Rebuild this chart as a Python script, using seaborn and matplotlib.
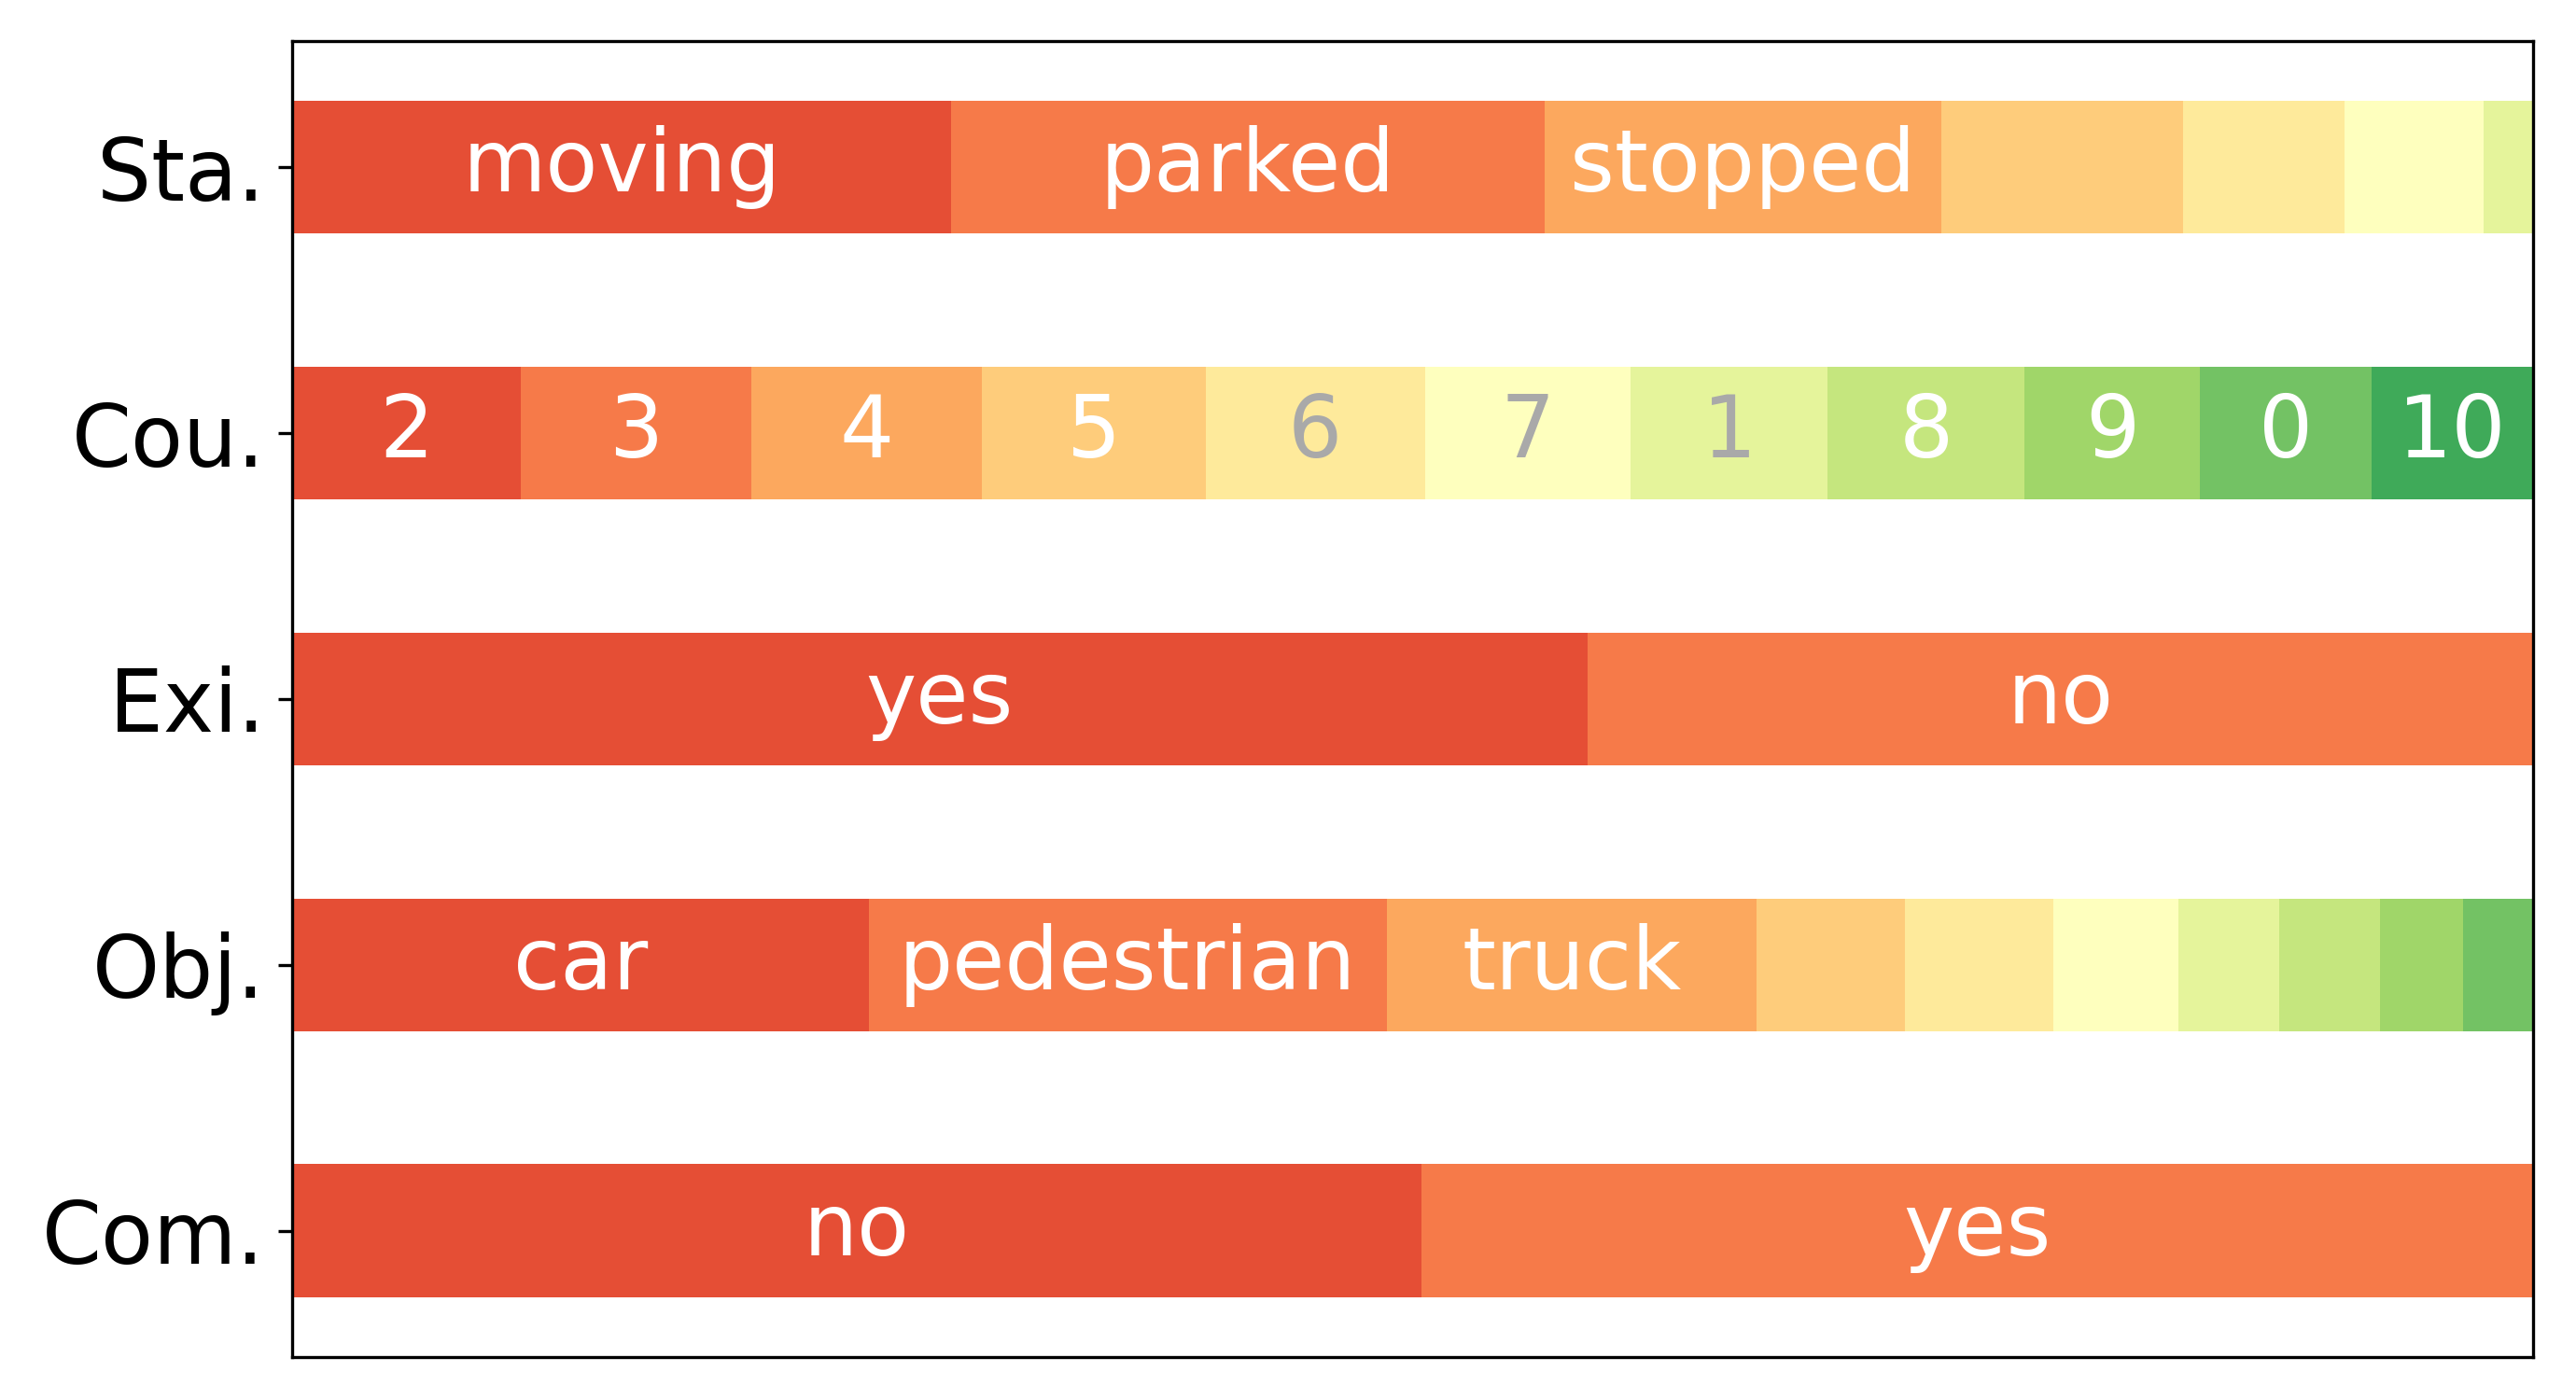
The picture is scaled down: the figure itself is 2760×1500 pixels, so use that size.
import numpy as np
import matplotlib
matplotlib.use("Agg")
import matplotlib.pyplot as plt
import seaborn as sns

# row names (top to bottom)
rows = ["Sta.", "Cou.", "Exi.", "Obj.", "Com."]

# share of each category per row (percent)
sta_vals = [29.4, 26.5, 17.7, 10.8, 7.2, 6.2, 2.2]
sta_labels = ["moving", "parked", "stopped", "", "", "", ""]

cou_vals = [10.2, 10.3, 10.3, 10.0, 9.8, 9.2, 8.8, 8.8, 7.8, 7.7, 7.2]
cou_labels = ["2", "3", "4", "5", "6", "7", "1", "8", "9", "0", "10"]

exi_vals = [57.8, 42.2]
exi_labels = ["yes", "no"]

obj_vals = [25.7, 23.1, 16.5, 6.6, 6.6, 5.6, 4.5, 4.5, 3.7, 3.1]
obj_labels = ["car", "pedestrian", "truck", "", "", "", "", "", "", ""]

com_vals = [50.4, 49.6]
com_labels = ["no", "yes"]


def main():
    plt.rcParams["font.family"] = ["DejaVu Sans"]

    all_vals = [sta_vals, cou_vals, exi_vals, obj_vals, com_vals]
    all_labels = [sta_labels, cou_labels, exi_labels, obj_labels, com_labels]

    n_max = max(len(v) for v in all_vals)
    cmap = sns.color_palette("RdYlGn", as_cmap=True)
    colors = cmap(np.linspace(0.15, 0.85, n_max))

    fig, ax = plt.subplots(figsize=(9.2, 5))
    fig.subplots_adjust(left=0.1134, right=0.9833, top=0.9707, bottom=0.0307)

    for i, (vals, labs) in enumerate(zip(all_vals, all_labels)):
        v = np.array(vals) / np.sum(vals)
        starts = np.cumsum(v) - v
        for j, (w, s, lab) in enumerate(zip(v, starts, labs)):
            ax.barh(i, w, left=s, height=0.5, color=colors[j], linewidth=0)
            if lab:
                r, g, b, _ = colors[j]
                tc = "white" if r * g * b < 0.5 else "darkgrey"
                ax.text(s + w / 2, i, lab, ha="center", va="center",
                        color=tc, fontsize=22)

    ax.set_yticks(range(len(rows)))
    ax.set_yticklabels(rows, fontsize=22)
    ax.invert_yaxis()
    ax.set_xlim(0, 1)
    ax.xaxis.set_visible(False)

    plt.savefig("out.png", dpi=300)


if __name__ == "__main__":
    main()
